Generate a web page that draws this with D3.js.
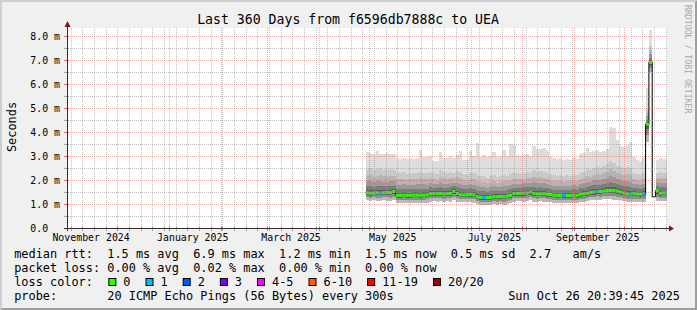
<!DOCTYPE html>
<html>
<head>
<meta charset="utf-8">
<script src="https://cdn.jsdelivr.net/npm/d3@7"></script>
<style>
  html, body { margin: 0; padding: 0; background: #fff; }
  svg { display: block; }
  text { font-family: "DejaVu Sans Mono", "Liberation Mono", monospace; white-space: pre; }
</style>
</head>
<body>
<svg id="chart" width="697" height="310"></svg>
<script>
// time range of the graph (360 days ending at the render time)
var startTime = new Date(Date.UTC(2024, 9, 31, 20, 39, 45));
var endTime = new Date(Date.UTC(2025, 9, 26, 20, 39, 45));
var dataStart = new Date(Date.UTC(2025, 3, 29));
var stepDays = 2;

// median rtt per 2-day step (ms)
var medianRtt = [1.47,1.45,1.46,1.47,1.46,1.47,1.48,1.47,1.52,
  1.36,1.36,1.37,1.36,1.36,1.37,1.37,1.36,1.37,1.38,
  1.43,1.44,1.43,1.44,1.42,1.43,1.44,1.52,1.44,
  1.38,1.38,1.39,1.40,1.38,
  1.30,1.28,1.27,1.27,1.28,1.30,1.30,1.31,1.30,1.33,1.36,
  1.43,1.44,1.45,1.45,1.46,1.50,
  1.44,1.42,1.42,1.43,1.41,1.40,
  1.37,1.36,1.37,1.36,1.35,1.36,1.37,1.36,
  1.41,1.42,1.44,1.48,1.50,1.52,1.52,1.54,
  1.56,1.57,1.56,1.54,1.50,1.46,
  1.42,1.41,1.43,1.42,1.41,1.42,
  4.33,6.90,1.30,
  1.55,1.45,1.46,1.47];

// lost pings (of 20) per step
var lossCount = [0,0,0,0,1,0,0,0,0,
  0,0,0,0,0,0,0,0,0,0,
  0,0,0,0,0,0,0,0,0,
  0,0,0,0,0,
  0,0,1,0,0,0,0,0,0,0,0,
  0,0,0,0,0,0,
  0,0,0,0,0,0,
  0,0,0,1,0,0,0,0,
  0,0,0,0,0,1,0,0,
  0,0,0,0,0,0,
  0,1,0,0,0,1,
  0,0,null,
  0,0,0,0];

// smoke: highest ping, upper dense edge, lowest ping (ms)
var smokeTop = [3.15,3.12,3.1,3.2,3.08,3.1,3.12,3.08,3.1,
  2.9,2.88,2.92,2.86,2.9,2.88,2.92,3.25,2.95,
  2.95,2.98,2.8,2.78,3.15,2.92,2.9,3.0,2.9,
  3.05,3.2,2.85,2.82,3.2,3.0,3.55,2.95,3.05,
  2.95,3.0,3.15,2.95,3.0,3.25,3.0,3.5,3.45,
  3.05,3.0,3.05,3.1,3.0,3.4,3.3,3.28,3.35,
  3.2,2.95,2.9,2.88,2.92,2.85,2.88,2.85,2.9,
  2.88,3.1,3.12,3.35,3.15,3.2,3.25,3.18,3.22,
  3.3,4.22,4.15,3.65,3.4,3.38,3.45,3.6,2.95,
  2.85,2.8,2.95,5.85,8.25,null,2.85,2.9,2.88,2.9];

var smokeUpper = [2.45,2.5,2.4,2.45,2.5,2.42,2.4,2.45,2.4,
  2.3,2.28,2.32,2.25,2.3,2.28,2.3,2.35,2.3,
  2.28,2.35,2.3,2.25,2.4,2.32,2.3,2.35,2.3,
  2.38,2.35,2.25,2.2,2.3,2.28,2.2,2.15,2.18,
  2.1,2.15,2.2,2.12,2.15,2.2,2.18,2.25,2.3,
  2.28,2.25,2.3,2.35,2.3,2.4,2.35,2.38,2.32,
  2.3,2.25,2.2,2.18,2.2,2.15,2.2,2.18,2.22,
  2.2,2.3,2.35,2.45,2.4,2.5,2.55,2.5,2.6,
  2.65,2.8,2.7,2.6,2.55,2.5,2.55,2.5,2.3,
  2.25,2.2,2.3,5.0,7.6,null,2.3,2.35,2.3,2.32];

var smokeBottom = [1.15,1.12,1.15,1.13,1.12,1.15,1.14,1.12,1.15,
  1.05,1.04,1.06,1.05,1.03,1.05,1.06,1.04,1.05,
  1.06,1.1,1.12,1.1,1.11,1.1,1.12,1.1,1.15,
  1.1,1.08,1.08,1.07,1.09,1.06,0.98,0.96,0.95,
  0.95,0.96,0.98,0.97,0.98,0.97,1.0,1.03,1.1,
  1.12,1.12,1.1,1.12,1.15,1.1,1.1,1.12,1.1,
  1.08,1.07,1.05,1.04,1.05,1.03,1.04,1.05,1.04,
  1.05,1.08,1.1,1.12,1.15,1.15,1.18,1.17,1.2,
  1.2,1.2,1.18,1.15,1.15,1.12,1.1,1.1,1.08,
  1.07,1.08,1.1,3.6,6.5,null,1.12,1.12,1.13,1.12];

var yTickValues = [0,1,2,3,4,5,6,7,8];
var yTickLabels = ["0.0  ","1.0 m","2.0 m","3.0 m","4.0 m","5.0 m","6.0 m","7.0 m","8.0 m"];
var yMinorValues = [0.5,1.5,2.5,3.5,4.5,5.5,6.5,7.5];
var xLabelDates = [Date.UTC(2024,10,15),Date.UTC(2025,0,15),Date.UTC(2025,2,15),
  Date.UTC(2025,4,15),Date.UTC(2025,6,15),Date.UTC(2025,8,15)];
var xLabels = ["November 2024","January 2025","March 2025","May 2025","July 2025","September 2025"];

var lossLabels = ["0","1","2","3","4-5","6-10","11-19","20/20"];
var lossColors = ["#26ff00","#00b8ff","#0059ff","#7e00ff","#ff00fe","#ff5e00","#ff0000","#a00000"];

var titleText = "Last 360 Days from f6596db7888c to UEA";
var legendRows = [
  "median rtt:  1.5 ms avg  6.9 ms max  1.2 ms min  1.5 ms now  0.5 ms sd  2.7   am/s",
  "packet loss: 0.00 % avg  0.02 % max  0.00 % min  0.00 % now",
  "loss color:",
  "probe:       20 ICMP Echo Pings (56 Bytes) every 300s"
];
var stampText = "Sun Oct 26 20:39:45 2025";

// ---- layout
var W = 697, H = 310;
var X0 = 67, X1 = 667, Y0 = 228, Y1 = 28;
var cw = 7.165, legendX = 14.2;
var minorCol = "rgba(143,143,143,0.55)", majorCol = "rgba(222,80,80,0.45)";

var x = d3.scaleUtc().domain([startTime, endTime]).range([X0, X1]);
var y = d3.scaleLinear().domain([0, 200 / 24]).range([Y0, Y1]);

function lossIndex(n) {
  if (n <= 3) return n;
  if (n <= 5) return 4;
  if (n <= 10) return 5;
  if (n <= 19) return 6;
  return 7;
}

var cols = medianRtt.map(function(m, i) {
  return {
    t0: d3.utcDay.offset(dataStart, i * stepDays),
    t1: d3.utcDay.offset(dataStart, (i + 1) * stepDays),
    med: m, loss: lossCount[i],
    top: smokeTop[i], up: smokeUpper[i], bot: smokeBottom[i]
  };
});

var svg = d3.select("#chart");
var defs = svg.append("defs");

defs.append("clipPath").attr("id", "plotclip")
  .append("rect").attr("x", X0).attr("y", Y1).attr("width", X1 - X0).attr("height", Y0 - Y1);

// banded smoke shading, dark near the median
function bandGradient(id, goingUp, bands) {
  var g = defs.append("linearGradient").attr("id", id)
    .attr("x1", 0).attr("x2", 0)
    .attr("y1", goingUp ? 1 : 0).attr("y2", goingUp ? 0 : 1);
  bands.forEach(function(b) {
    g.append("stop").attr("offset", b[0]).attr("stop-color", b[2]);
    g.append("stop").attr("offset", b[1]).attr("stop-color", b[2]);
  });
}
bandGradient("smokeUp", true, [[0,0.12,"#5e5e5e"],[0.12,0.28,"#7c7c7c"],[0.28,0.48,"#9a9a9a"],[0.48,0.72,"#b4b4b4"],[0.72,1,"#c9c9c9"]]);
bandGradient("smokeDown", false, [[0,0.3,"#5a5a5a"],[0.3,0.6,"#8c8c8c"],[0.6,1,"#b9b9b9"]]);

// 1-on 1-off dot patterns for the grid
function dotPattern(id, vertical, colour) {
  var p = defs.append("pattern").attr("id", id).attr("patternUnits", "userSpaceOnUse")
    .attr("width", vertical ? 1 : 2).attr("height", vertical ? 2 : 1);
  p.append("rect").attr("width", 1).attr("height", 1).attr("fill", colour);
}
dotPattern("vMinor", true, minorCol);
dotPattern("hMinor", false, minorCol);
dotPattern("vMajor", true, majorCol);
dotPattern("hMajor", false, majorCol);

// background + 3d border
svg.append("rect").attr("width", W).attr("height", H).attr("fill", "#f0f0f0");
svg.append("polygon").attr("points", "0,0 697,0 695,2 2,2 2,308 0,310").attr("fill", "#cfcfcf");
svg.append("polygon").attr("points", "697,0 697,310 0,310 2,308 695,308 695,2").attr("fill", "#9e9e9e");

svg.append("rect").attr("x", X0).attr("y", Y1).attr("width", X1 - X0).attr("height", Y0 - Y1)
  .attr("fill", "#ffffff");

// ---- smoke
var data = svg.append("g").attr("clip-path", "url(#plotclip)");
var smoke = cols.filter(function(d) { return d.top != null; });

data.selectAll("rect.light").data(smoke).enter().append("rect")
  .attr("class", "light")
  .attr("x", function(d) { return x(d.t0); })
  .attr("width", function(d) { return x(d.t1) - x(d.t0); })
  .attr("y", function(d) { return y(d.top); })
  .attr("height", function(d) { return y(d.bot) - y(d.top); })
  .attr("fill", "#dddddd").attr("shape-rendering", "crispEdges");

data.selectAll("rect.up").data(smoke).enter().append("rect")
  .attr("class", "up")
  .attr("x", function(d) { return x(d.t0); })
  .attr("width", function(d) { return x(d.t1) - x(d.t0); })
  .attr("y", function(d) { return y(d.up); })
  .attr("height", function(d) { return y(d.med) - y(d.up); })
  .attr("fill", "url(#smokeUp)").attr("shape-rendering", "crispEdges");

data.selectAll("rect.down").data(smoke).enter().append("rect")
  .attr("class", "down")
  .attr("x", function(d) { return x(d.t0); })
  .attr("width", function(d) { return x(d.t1) - x(d.t0); })
  .attr("y", function(d) { return y(d.med); })
  .attr("height", function(d) { return y(d.bot) - y(d.med); })
  .attr("fill", "url(#smokeDown)").attr("shape-rendering", "crispEdges");

// ---- grid (drawn over the smoke, like rrdtool)
var grid = svg.append("g").attr("shape-rendering", "crispEdges");
var majorX = d3.utcMonth.range(startTime, endTime);
var minorX = d3.utcSunday.range(startTime, endTime).filter(function(d) {
  return !majorX.some(function(m) { return Math.abs(x(m) - x(d)) < 1; });
});
function vGrid(cls, dates, fill) {
  grid.selectAll("rect." + cls).data(dates).enter().append("rect").attr("class", cls)
    .attr("x", function(d) { return Math.round(x(d)); }).attr("width", 1)
    .attr("y", Y1).attr("height", Y0 - Y1).attr("fill", fill);
}
function hGrid(cls, vals, fill) {
  grid.selectAll("rect." + cls).data(vals).enter().append("rect").attr("class", cls)
    .attr("x", X0).attr("width", X1 - X0)
    .attr("y", function(d) { return Math.round(y(d)); }).attr("height", 1).attr("fill", fill);
}
vGrid("vmin", minorX, "url(#vMinor)");
hGrid("hmin", yMinorValues, "url(#hMinor)");
vGrid("vmaj", majorX, "url(#vMajor)");
hGrid("hmaj", yTickValues.slice(1), "url(#hMajor)");

// ---- median line: thin dark step line, then loss coloured segments
var stepPts = [];
cols.forEach(function(d) {
  stepPts.push({ t: d.t0, v: d.med });
  stepPts.push({ t: d.t1, v: d.med });
});
data.append("path")
  .attr("d", d3.line().x(function(p) { return x(p.t); }).y(function(p) { return y(p.v); })(stepPts))
  .attr("fill", "none").attr("stroke", "#111").attr("stroke-width", 1.1);

data.selectAll("rect.med").data(cols.filter(function(d) { return d.loss != null; })).enter().append("rect")
  .attr("class", "med")
  .attr("x", function(d) { return x(d.t0); })
  .attr("width", function(d) { return x(d.t1) - x(d.t0); })
  .attr("y", function(d) { return y(d.med) - 1.5; })
  .attr("height", 3)
  .attr("fill", function(d) { return lossColors[lossIndex(d.loss)]; });

// ---- axes
var axisG = svg.append("g").attr("shape-rendering", "crispEdges");
axisG.selectAll("rect.xt").data(majorX.concat(minorX)).enter().append("rect").attr("class", "xt")
  .attr("x", function(d) { return Math.round(x(d)); }).attr("width", 1)
  .attr("y", Y0 - 2).attr("height", 5)
  .attr("fill", function(d, i) { return i < majorX.length ? "#e07070" : "#aaaaaa"; });
axisG.selectAll("rect.yt").data(yTickValues.concat(yMinorValues)).enter().append("rect").attr("class", "yt")
  .attr("x", X0 - 3).attr("width", 5)
  .attr("y", function(d) { return Math.round(y(d)); }).attr("height", 1)
  .attr("fill", function(d, i) { return i < yTickValues.length ? "#e07070" : "#aaaaaa"; });

axisG.append("line").attr("x1", X0 + 0.5).attr("x2", X0 + 0.5).attr("y1", Y0 + 3).attr("y2", Y1 - 5)
  .attr("stroke", "#3a2a2a");
axisG.append("line").attr("x1", X0 - 3).attr("x2", X1 + 4).attr("y1", Y0 + 0.5).attr("y2", Y0 + 0.5)
  .attr("stroke", "#3a2a2a");
svg.append("path").attr("d", d3.line()([[X0 - 2.5, Y1 - 1], [X0 + 0.5, Y1 - 7], [X0 + 3.5, Y1 - 1]]) + "Z")
  .attr("fill", "#8b1010");
svg.append("path").attr("d", d3.line()([[X1 + 2, Y0 - 2.5], [X1 + 7, Y0 + 0.5], [X1 + 2, Y0 + 3.5]]) + "Z")
  .attr("fill", "#8b1010");

var yAxis = d3.axisLeft(y).tickValues(yTickValues).tickSize(0).tickPadding(7)
  .tickFormat(function(d, i) { return yTickLabels[i]; });
var yg = svg.append("g").attr("transform", "translate(" + X0 + ",0)").call(yAxis);
yg.select(".domain").remove();
yg.selectAll("text").attr("font-family", "DejaVu Sans Mono").attr("font-size", "9.9px")
  .attr("fill", "#000").attr("dy", "0.34em");

var xAxis = d3.axisBottom(x).tickValues(xLabelDates.map(function(t) { return new Date(t); }))
  .tickSize(0).tickPadding(5.5)
  .tickFormat(function(d, i) { return xLabels[i]; });
var xg = svg.append("g").attr("transform", "translate(0," + Y0 + ")").call(xAxis);
xg.select(".domain").remove();
xg.selectAll("text").attr("font-family", "DejaVu Sans Mono").attr("font-size", "9.9px").attr("fill", "#000");

// ---- titles
svg.append("text").attr("x", 348).attr("y", 23.5).attr("text-anchor", "middle")
  .attr("font-size", "13.2px").attr("fill", "#000").text(titleText);
svg.append("text").attr("transform", "translate(15.5,127) rotate(-90)").attr("text-anchor", "middle")
  .attr("font-size", "11.9px").attr("fill", "#000").text("Seconds");
svg.append("text").attr("transform", "translate(685,5) rotate(90)")
  .attr("font-size", "8.2px").attr("fill", "#a8a8a8").text("RRDTOOL / TOBI OETIKER");

// ---- legend
var rowY = [258, 272, 286, 300];
legendRows.forEach(function(r, k) {
  svg.append("text").attr("x", legendX).attr("y", rowY[k]).attr("xml:space", "preserve")
    .attr("font-size", "11.9px").attr("fill", "#000").text(r);
});
svg.append("text").attr("x", 680).attr("y", rowY[3]).attr("text-anchor", "end")
  .attr("font-size", "11.9px").attr("fill", "#000").text(stampText);

var bx = legendX + 13 * cw + 1;
lossLabels.forEach(function(lab, k) {
  svg.append("rect").attr("x", bx + 0.5).attr("y", rowY[2] - 7.5).attr("width", 7).attr("height", 7)
    .attr("fill", lossColors[k]).attr("stroke", "#000").attr("stroke-width", 1);
  svg.append("text").attr("x", bx + 15).attr("y", rowY[2]).attr("font-size", "11.9px")
    .attr("fill", "#000").text(lab);
  bx = bx + 15 + lab.length * cw + 15;
});
</script>
</body>
</html>
